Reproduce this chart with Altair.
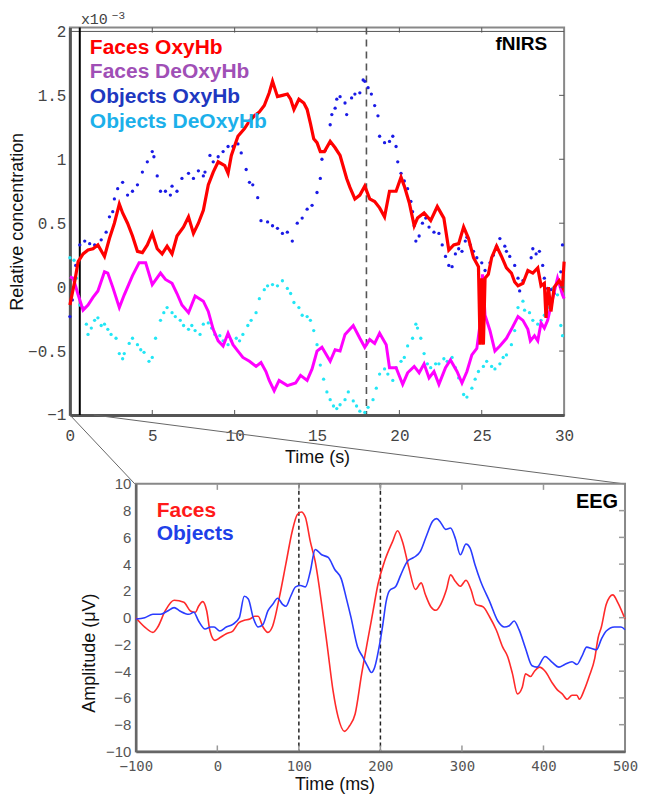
import altair as alt
import pandas as pd

# ---------------- fNIRS data (time in s, concentration in 1e-3 units) ----------------
faces_oxy = [(0.0,-0.14),(0.3,0.05),(0.5,0.2),(0.8,0.26),(1.1,0.29),(1.4,0.3),(1.7,0.33),(2.1,0.24),(2.4,0.38),(2.7,0.5),
             (3.0,0.65),(3.2,0.58),(3.5,0.5),(3.8,0.4),(4.1,0.28),(4.4,0.27),(4.7,0.33),(5.0,0.42),(5.3,0.3),(5.6,0.26),
             (5.9,0.32),(6.2,0.26),(6.5,0.4),(6.9,0.47),(7.2,0.55),(7.5,0.42),(7.8,0.5),(8.1,0.6),(8.4,0.8),(8.7,0.9),
             (9.0,0.98),(9.4,0.95),(9.6,0.89),(9.8,1.03),(10.2,1.18),(10.6,1.24),(10.9,1.3),(11.2,1.34),(11.5,1.37),(11.8,1.42),
             (12.1,1.52),(12.3,1.61),(12.6,1.49),(12.9,1.5),(13.2,1.51),(13.4,1.47),(13.6,1.39),(13.9,1.47),(14.2,1.44),(14.4,1.39),
             (14.6,1.28),(14.8,1.16),(15.0,1.13),(15.2,1.06),(15.45,1.06),(15.8,1.14),(16.1,1.09),(16.4,1.03),(16.8,0.85),(17.0,0.78),
             (17.3,0.69),(17.6,0.72),(17.9,0.79),(18.2,0.69),(18.5,0.67),(18.8,0.62),(19.1,0.55),(19.4,0.75),(19.8,0.75),(20.1,0.86),
             (20.3,0.79),(20.6,0.66),(20.9,0.48),(21.1,0.54),(21.5,0.58),(21.9,0.52),(22.3,0.63),(22.7,0.54),(23.0,0.29),(23.3,0.33),
             (23.6,0.34),(23.9,0.47),(24.2,0.38),(24.5,0.23),(24.8,0.16),(24.9,-0.45),(25.0,0.07),(25.1,-0.45),(25.2,0.07),(25.4,0.1),
             (25.6,0.23),(25.9,0.32),(26.2,0.24),(26.5,0.15),(26.8,0.11),(27.0,0.04),(27.2,0.01),(27.5,0.03),(27.8,0.13),(28.1,0.11),
             (28.4,0.15),(28.6,0.01),(28.8,0.03),(28.9,-0.24),(29.05,0.0),(29.2,-0.19),(29.4,0.0),(29.7,0.05),(29.9,0.0),(30.0,0.2)]

faces_deoxy = [(0.0,0.08),(0.2,0.07),(0.5,-0.06),(0.8,-0.18),(1.1,-0.14),(1.4,-0.08),(1.7,-0.03),(2.1,0.12),(2.3,0.11),(2.6,0.0),
               (3.0,-0.16),(3.3,-0.06),(3.8,0.09),(4.2,0.19),(4.6,0.19),(5.0,0.02),(5.5,0.11),(5.8,0.06),(6.2,0.03),(6.5,-0.05),
               (6.8,-0.14),(7.2,-0.2),(7.6,-0.07),(8.1,-0.11),(8.4,-0.19),(8.7,-0.33),(9.0,-0.42),(9.3,-0.46),(9.6,-0.36),(9.9,-0.45),
               (10.2,-0.5),(10.5,-0.55),(10.9,-0.58),(11.3,-0.62),(11.6,-0.59),(11.9,-0.66),(12.1,-0.73),(12.4,-0.81),(12.7,-0.73),(13.2,-0.77),
               (13.7,-0.75),(14.0,-0.69),(14.4,-0.73),(14.7,-0.64),(15.0,-0.5),(15.3,-0.47),(15.8,-0.58),(16.1,-0.49),(16.4,-0.5),(16.7,-0.37),
               (17.2,-0.3),(17.6,-0.4),(17.9,-0.47),(18.2,-0.41),(18.5,-0.44),(18.8,-0.36),(19.2,-0.45),(19.4,-0.63),(19.8,-0.63),(20.2,-0.76),
               (20.5,-0.67),(20.9,-0.62),(21.2,-0.67),(21.5,-0.6),(21.8,-0.71),(22.1,-0.66),(22.4,-0.76),(22.8,-0.63),(23.1,-0.57),(23.5,-0.66),
               (23.8,-0.75),(24.1,-0.66),(24.4,-0.53),(24.7,-0.48),(24.9,-0.29),(25.05,0.1),(25.2,-0.22),(25.5,-0.34),(25.8,-0.5),(26.1,-0.46),
               (26.5,-0.4),(26.8,-0.33),(27.2,-0.23),(27.5,-0.26),(27.8,-0.33),(27.95,-0.42),(28.2,-0.38),(28.4,-0.42),(28.6,-0.28),(28.8,-0.32),
               (29.0,-0.26),(29.3,-0.09),(29.6,0.07),(29.9,-0.06),(30.0,-0.09)]

objects_oxy = [(0.0,-0.23),(0.15,-0.1),(0.35,0.17),(0.6,0.33),(0.9,0.36),(1.2,0.34),(1.5,0.33),(1.7,0.32),(1.9,0.37),(2.2,0.43),
               (2.4,0.55),(2.6,0.59),(2.7,0.69),(2.9,0.77),(3.2,0.82),(3.5,0.72),(3.8,0.75),(4.1,0.8),(4.4,0.9),(4.7,0.98),
               (5.0,1.06),(5.1,1.02),(5.3,0.87),(5.5,0.75),(5.8,0.75),(6.1,0.72),(6.2,0.79),(6.5,0.75),(6.8,0.85),(7.2,0.89),
               (7.5,0.85),(7.8,0.91),(8.1,0.87),(8.2,0.9),(8.5,1.03),(8.7,0.98),(9.0,1.02),(9.3,1.06),(9.6,1.1),(9.9,1.1),
               (10.2,1.12),(10.4,1.05),(10.7,0.92),(10.9,0.82),(11.1,0.8),(11.4,0.7),(11.6,0.52),(12.0,0.51),(12.3,0.48),(12.6,0.46),
               (12.9,0.42),(13.2,0.43),(13.5,0.36),(13.8,0.5),(14.1,0.54),(14.4,0.61),(14.7,0.64),(15.0,0.74),(15.2,0.85),(15.3,1.0),
               (15.5,1.07),(15.8,1.27),(15.9,1.35),(16.1,1.4),(16.2,1.47),(16.4,1.49),(16.7,1.44),(16.8,1.35),(17.1,1.48),(17.3,1.51),
               (17.6,1.52),(17.8,1.62),(17.9,1.61),(18.1,1.56),(18.3,1.51),(18.5,1.42),(18.7,1.34),(18.8,1.18),(19.1,1.13),(19.4,1.14),
               (19.6,1.18),(19.8,1.1),(19.9,0.98),(20.1,0.89),(20.3,0.83),(20.5,0.77),(20.7,0.67),(20.8,0.59),(20.9,0.48),(21.0,0.36),
               (21.2,0.4),(21.4,0.5),(21.6,0.54),(21.8,0.47),(22.1,0.43),(22.4,0.42),(22.6,0.33),(22.8,0.24),(23.0,0.17),(23.2,0.16),
               (23.4,0.26),(23.6,0.3),(23.8,0.28),(24.0,0.36),(24.1,0.39),(24.3,0.33),(24.5,0.28),(24.7,0.23),(25.0,0.19),(25.2,0.13),
               (25.5,0.19),(25.7,0.25),(25.9,0.32),(26.1,0.38),(26.4,0.32),(26.5,0.28),(26.7,0.24),(27.0,0.17),(27.2,0.07),(27.3,-0.03),
               (27.5,0.05),(27.8,0.12),(28.0,0.23),(28.1,0.3),(28.3,0.26),(28.5,0.28),(28.7,0.17),(28.8,0.07),(29.0,-0.01),(29.2,-0.02),
               (29.4,-0.05),(29.6,0.03),(29.8,0.12),(29.9,0.33)]

objects_deoxy = [(0.0,0.23),(0.25,0.21),(0.4,0.07),(0.6,-0.14),(0.8,-0.16),(1.0,-0.29),(1.1,-0.37),(1.3,-0.32),(1.5,-0.26),(1.7,-0.24),
                 (1.9,-0.3),(2.1,-0.29),(2.3,-0.33),(2.5,-0.37),(2.8,-0.4),(3.0,-0.52),(3.2,-0.56),(3.3,-0.52),(3.6,-0.44),(3.8,-0.4),
                 (4.1,-0.45),(4.3,-0.49),(4.5,-0.51),(4.8,-0.58),(5.0,-0.55),(5.2,-0.4),(5.5,-0.26),(5.7,-0.2),(5.9,-0.16),(6.2,-0.2),
                 (6.4,-0.23),(6.7,-0.26),(6.9,-0.3),(7.2,-0.33),(7.4,-0.3),(7.6,-0.34),(7.9,-0.37),(8.1,-0.29),(8.4,-0.28),(8.6,-0.32),
                 (8.8,-0.37),(9.1,-0.38),(9.3,-0.42),(9.6,-0.45),(9.8,-0.42),(10.1,-0.4),(10.3,-0.42),(10.5,-0.37),(10.8,-0.3),(11.0,-0.26),
                 (11.3,-0.2),(11.5,-0.09),(11.8,-0.02),(12.0,0.01),(12.3,0.02),(12.6,0.01),(12.9,0.05),(13.2,-0.01),(13.4,-0.05),(13.6,-0.12),
                 (13.9,-0.16),(14.1,-0.22),(14.4,-0.23),(14.6,-0.26),(14.8,-0.34),(15.0,-0.45),(15.2,-0.61),(15.4,-0.72),(15.6,-0.82),(15.8,-0.88),
                 (16.0,-0.93),(16.2,-0.95),(16.4,-0.92),(16.7,-0.88),(16.9,-0.82),(17.2,-0.89),(17.4,-0.93),(17.6,-0.97),(17.9,-0.98),(18.1,-0.94),
                 (18.4,-0.88),(18.6,-0.79),(18.8,-0.68),(19.1,-0.64),(19.3,-0.68),(19.6,-0.73),(19.8,-0.63),(20.1,-0.58),(20.3,-0.55),(20.5,-0.46),
                 (20.8,-0.4),(21.0,-0.29),(21.1,-0.32),(21.3,-0.4),(21.5,-0.52),(21.7,-0.6),(21.9,-0.63),(22.2,-0.6),(22.4,-0.6),(22.7,-0.56),
                 (22.9,-0.58),(23.2,-0.55),(23.4,-0.63),(23.6,-0.71),(23.9,-0.84),(24.1,-0.86),(24.4,-0.79),(24.6,-0.72),(24.8,-0.66),(25.1,-0.62),
                 (25.3,-0.58),(25.6,-0.62),(25.8,-0.64),(26.1,-0.6),(26.3,-0.55),(26.5,-0.53),(26.8,-0.45),(27.0,-0.34),(27.2,-0.16),(27.5,-0.11),
                 (27.6,-0.18),(27.9,-0.2),(28.1,-0.26),(28.4,-0.29),(28.6,-0.26),(28.8,-0.22),(29.1,-0.16),(29.3,-0.01),(29.6,-0.06),(29.8,-0.3),
                 (29.9,-0.38)]

# ---------------- EEG data (time in ms, amplitude in uV) ----------------
eeg_faces = [(-100,0.0),(-89,-0.7),(-79,-1.1),(-73,-0.7),(-64,0.5),(-53,1.3),(-41,1.15),(-33,0.5),(-27,0.4),(-23,0.85),
             (-18,1.2),(-13,0.5),(-9,-1.0),(-3,-1.7),(3,-1.5),(11,-1.2),(19,-1.0),(26,-0.4),(33,-0.2),(40,-0.1),
             (46,0.1),(50,0.1),(56,-0.7),(62,-1.1),(68,-0.6),(76,1.5),(84,4.0),(92,6.5),(98,7.7),(103,7.9),
             (108,7.5),(114,5.7),(120,4.2),(128,1.0),(135,-2.2),(142,-5.5),(148,-7.4),(156,-8.5),(162,-8.1),(169,-7.2),
             (177,-4.2),(185,-1.5),(191,0.5),(197,2.5),(205,4.2),(215,5.7),(221,6.5),(227,5.7),(235,3.7),(243,2.1),
             (250,2.6),(255,1.75),(262,0.8),(268,0.55),(274,1.0),(281,2.1),(286,3.2),(292,2.7),(298,2.35),(305,2.8),
             (311,2.1),(317,1.0),(326,0.8),(334,0.05),(342,-0.9),(350,-2.2),(356,-2.9),(362,-4.2),(368,-5.7),(374,-5.2),
             (378,-4.2),(384,-4.4),(389,-4.0),(395,-3.7),(402,-4.0),(411,-4.9),(417,-5.4),(423,-5.7),(429,-6.1),(435,-5.8),
             (441,-5.8),(444,-6.1),(450,-5.4),(456,-4.4),(463,-3.0),(467,-1.5),(471,-0.7),(477,1.0),(485,1.7),(491,1.15),
             (500,-0.1)]

eeg_objects = [(-100,-0.1),(-89,0.0),(-79,0.25),(-70,0.25),(-61,0.5),(-53,0.75),(-46,0.5),(-35,0.25),(-29,0.4),(-23,-0.25),
               (-15,-0.85),(-8,-0.7),(-4,-0.7),(3,-1.0),(11,-0.7),(19,-0.5),(27,0.0),(33,1.6),(38,1.4),(44,0.0),
               (50,-0.7),(56,-0.5),(62,0.5),(68,1.0),(74,1.45),(80,1.0),(84,0.85),(90,1.6),(96,2.3),(102,2.4),
               (108,2.3),(114,3.45),(120,5.1),(128,4.7),(136,4.5),(144,3.6),(152,2.9),(158,1.5),(164,0.0),(172,-2.2),
               (178,-2.9),(184,-3.6),(189,-4.1),(193,-3.7),(199,-2.0),(203,-0.5),(207,1.2),(211,2.0),(219,2.35),(225,3.2),
               (233,4.2),(241,4.5),(249,4.95),(257,6.2),(264,7.2),(269,7.4),(274,7.1),(280,6.6),(286,6.7),(292,5.9),
               (298,4.7),(305,5.5),(310,5.2),(316,3.95),(323,2.7),(334,1.2),(344,-0.25),(352,-0.7),(358,-0.6),(364,-0.25),
               (370,-0.9),(378,-2.3),(386,-3.6),(392,-3.7),(402,-2.9),(410,-3.3),(419,-3.7),(426,-3.5),(435,-3.3),(441,-3.5),
               (447,-2.9),(453,-2.2),(459,-2.3),(465,-2.4),(471,-1.6),(477,-1.0),(487,-0.7),(495,-0.7),(500,-0.9)]

# ticks / labels
top_x_ticks = [0, 5, 10, 15, 20, 25, 30]
top_y_ticks = [-1, -0.5, 0, 0.5, 1, 1.5, 2]
eeg_x_ticks = [-100, 0, 100, 200, 300, 400, 500]
eeg_y_ticks = [-10, -8, -6, -4, -2, 0, 2, 4, 6, 8, 10]
stim_marker_s = [18]
eeg_marker_ms = [100, 200]
legend_top = ["Faces OxyHb", "Faces DeOxyHb", "Objects OxyHb", "Objects DeOxyHb"]
legend_top_colors = ["#ff0000", "#a04fb6", "#1e38c0", "#1cb0ea"]
legend_eeg = ["Faces", "Objects"]
legend_eeg_colors = ["#ff1a1a", "#2040e8"]

TW, TH = 495, 388
EW, EH = 490, 268
GAP = 69          # vertical gap between the two panels
SPACER = 66       # horizontal offset of the EEG panel


def df(pairs, a, b):
    return pd.DataFrame(pairs, columns=[a, b])


def txt(s, x, y, color, size, weight="bold", align="left", font="Liberation Sans", baseline="alphabetic"):
    return alt.Chart(pd.DataFrame({"label": [s]})).mark_text(
        align=align, baseline=baseline, font=font, fontSize=size, fontWeight=weight, color=color
    ).encode(x=alt.value(x), y=alt.value(y), text="label:N")


# ---------------- top panel ----------------
x_top = alt.X("t:Q", scale=alt.Scale(domain=[0, 30], nice=False, zero=False),
              axis=alt.Axis(values=top_x_ticks, format="d", labelFont="Liberation Mono", labelFontSize=16,
                            labelColor="#444", ticks=False, domainColor="#555", domainWidth=3, labelPadding=13,
                            title="Time (s)", titleFont="Liberation Sans", titleFontSize=18, titleFontWeight="normal",
                            titleColor="#111", titleY=43, titleBaseline="middle", grid=False, labelFlush=False))
y_top = alt.Y("v:Q", scale=alt.Scale(domain=[-1, 2.03], nice=False, zero=False),
              axis=alt.Axis(values=top_y_ticks, format="~g", labelFont="Liberation Mono", labelFontSize=16,
                            labelColor="#444", ticks=False, domainColor="#555", domainWidth=3, labelPadding=4,
                            title="Relative concentration", titleFont="Liberation Sans", titleFontSize=18,
                            titleFontWeight="normal", titleColor="#111", titleX=-52, titleY=TH / 2,
                            titleBaseline="middle", titleAngle=270, grid=False, labelFlush=False))

top_layers = [
    alt.Chart(pd.DataFrame({"v": [2]})).mark_rule(color="#555", strokeWidth=1).encode(y=y_top),
    alt.Chart(pd.DataFrame({"t": [0.6]})).mark_rule(color="#000", strokeWidth=2).encode(x=x_top),
    alt.Chart(pd.DataFrame({"t": stim_marker_s})).mark_rule(color="#555", strokeWidth=1.6, strokeDash=[7, 5]).encode(x=x_top),
    alt.Chart(df(objects_deoxy, "t", "v")).mark_circle(color="#22e6f5", size=11, opacity=1).encode(x=x_top, y=y_top),
    alt.Chart(df(objects_oxy, "t", "v")).mark_circle(color="#1a1ae6", size=11, opacity=1).encode(x=x_top, y=y_top),
    alt.Chart(df(faces_deoxy, "t", "v")).mark_line(color="#ff00ff", strokeWidth=3).encode(x=x_top, y=y_top, order="t:Q"),
    alt.Chart(df(faces_oxy, "t", "v")).mark_line(color="#ff0000", strokeWidth=3.2).encode(x=x_top, y=y_top, order="t:Q"),
    # inward ticks
    alt.Chart(pd.DataFrame({"t": top_x_ticks[1:-1]})).mark_rule(color="#555", strokeWidth=1).encode(
        x=x_top, y=alt.value(TH), y2=alt.value(TH - 5)),
    alt.Chart(pd.DataFrame({"t": top_x_ticks[1:-1]})).mark_rule(color="#555", strokeWidth=1).encode(
        x=x_top, y=alt.value(0), y2=alt.value(5)),
    alt.Chart(pd.DataFrame({"v": top_y_ticks[1:-1]})).mark_rule(color="#555", strokeWidth=1).encode(
        y=y_top, x=alt.value(TW), x2=alt.value(TW - 5)),
    # zoom connector lines to the EEG panel corners
    alt.Chart(pd.DataFrame({"t": [0.0], "v": [-1.0]})).mark_rule(color="#666", strokeWidth=1).encode(
        x=x_top, y=y_top, x2=alt.value(SPACER - 1), y2=alt.value(TH + GAP)),
    alt.Chart(pd.DataFrame({"t": [1.45], "v": [-1.0]})).mark_rule(color="#666", strokeWidth=1).encode(
        x=x_top, y=y_top, x2=alt.value(SPACER + EW - 1), y2=alt.value(TH + GAP)),
    # texts
    txt("x10", 11, -16, "#444", 15, weight="normal", font="Liberation Mono", baseline="top"),
    txt("\u22123", 42, -18, "#444", 11, weight="normal", font="Liberation Mono", baseline="top"),
    txt("fNIRS", 478, 22, "#000", 19, align="right"),
]
for i, (lab, col) in enumerate(zip(legend_top, legend_top_colors)):
    top_layers.append(txt(lab, 20, 26 + 24.7 * i, col, 21))

top = alt.layer(*top_layers).properties(width=TW, height=TH,
                                        view=alt.ViewBackground(stroke="#888", strokeWidth=2))

# ---------------- EEG panel ----------------
x_eeg = alt.X("ms:Q", scale=alt.Scale(domain=[-100, 500], nice=False, zero=False),
              axis=alt.Axis(values=eeg_x_ticks, format="d", labelFont="DejaVu Sans Mono", labelFontSize=14,
                            labelColor="#555", ticks=False, domainColor="#666", domainWidth=2.5, labelPadding=8,
                            title="Time (ms)", titleFont="Liberation Sans", titleFontSize=18, titleFontWeight="normal",
                            titleColor="#111", titleX=199, titleY=33, titleBaseline="middle", grid=False,
                            labelFlush=False))
y_eeg = alt.Y("uv:Q", scale=alt.Scale(domain=[-10, 10], nice=False, zero=False),
              axis=alt.Axis(values=eeg_y_ticks, format="d", labelFont="Liberation Sans", labelFontSize=15,
                            labelColor="#555", ticks=False, domainColor="#666", domainWidth=2.5, labelPadding=5,
                            title="Amplitude (\u03bcV)", titleFont="Liberation Sans", titleFontSize=18,
                            titleFontWeight="normal", titleColor="#111", titleX=-46, titleY=169,
                            titleBaseline="middle", titleAngle=270, grid=False, labelFlush=False))

eeg_layers = [
    alt.Chart(pd.DataFrame({"ms": eeg_marker_ms})).mark_rule(color="#222", strokeWidth=1.5, strokeDash=[4, 3]).encode(x=x_eeg),
    alt.Chart(df(eeg_faces, "ms", "uv")).mark_line(color="#ff2a2a", strokeWidth=1.6, interpolate="monotone").encode(
        x=x_eeg, y=y_eeg, order="ms:Q"),
    alt.Chart(df(eeg_objects, "ms", "uv")).mark_line(color="#2a3cff", strokeWidth=1.6, interpolate="monotone").encode(
        x=x_eeg, y=y_eeg, order="ms:Q"),
    alt.Chart(pd.DataFrame({"ms": eeg_x_ticks[1:-1]})).mark_rule(color="#999", strokeWidth=1.5).encode(
        x=x_eeg, y=alt.value(EH), y2=alt.value(EH - 6)),
    alt.Chart(pd.DataFrame({"ms": eeg_x_ticks[1:-1]})).mark_rule(color="#999", strokeWidth=1.5).encode(
        x=x_eeg, y=alt.value(0), y2=alt.value(6)),
    alt.Chart(pd.DataFrame({"uv": eeg_y_ticks[1:-1]})).mark_rule(color="#999", strokeWidth=1.5).encode(
        y=y_eeg, x=alt.value(EW), x2=alt.value(EW - 6)),
    txt("EEG", EW - 7, 24, "#000", 20, align="right"),
]
for i, (lab, col) in enumerate(zip(legend_eeg, legend_eeg_colors)):
    eeg_layers.append(txt(lab, 21, 33 + 23 * i, col, 21))

eeg = alt.layer(*eeg_layers).properties(width=EW, height=EH,
                                        view=alt.ViewBackground(stroke="#888", strokeWidth=2))

spacer = alt.Chart(pd.DataFrame({"s": [0]})).mark_point(opacity=0).encode(
    x=alt.value(0), y=alt.value(0)).properties(width=SPACER, height=EH)

chart = alt.vconcat(
    top,
    alt.hconcat(spacer, eeg, spacing=0, bounds="flush"),
    spacing=GAP, bounds="flush",
).properties(
    padding={"left": 0, "top": 0, "right": 0, "bottom": 0}
).configure_view(stroke="transparent")

chart.save("out.html", embed_options={"renderer": "svg", "actions": False})
